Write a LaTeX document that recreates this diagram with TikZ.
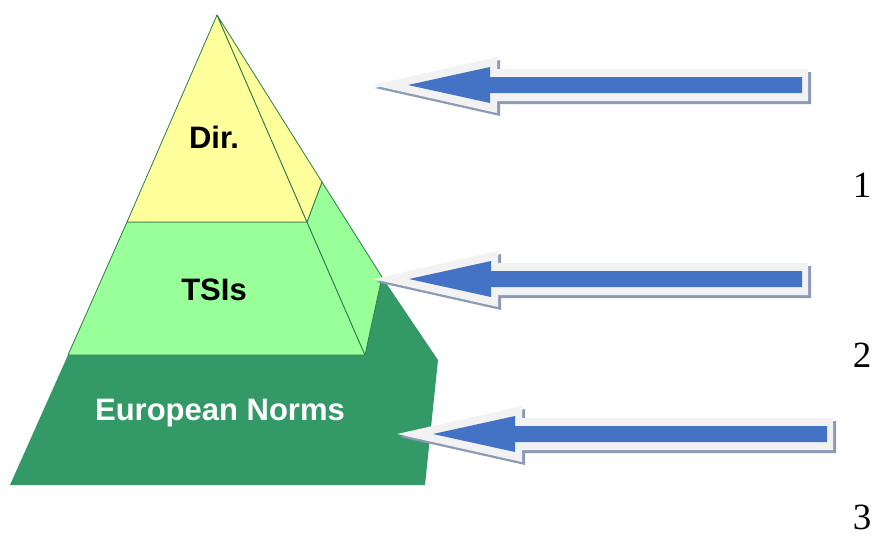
\documentclass[tikz,border=0pt]{standalone}
\usepackage{fontspec}
\setmainfont{Liberation Serif}
\setsansfont{Liberation Sans}

\definecolor{dirfill}{HTML}{FFFF9C}
\definecolor{tsifill}{HTML}{99FF99}
\definecolor{enfill}{HTML}{339966}
\definecolor{edge}{HTML}{2A7A4A}
\definecolor{arrblue}{HTML}{4472C4}
\definecolor{arrrim}{HTML}{F2F2F2}
\definecolor{arrshade}{HTML}{8C9AB5}

\begin{document}
\begin{tikzpicture}[x=1pt, y=-1pt,
    face/.style={draw=edge, line width=0.8pt, line join=round},
    lbl/.style={font=\sffamily\bfseries\fontsize{31}{31}\selectfont},
    num/.style={font=\fontsize{37}{37}\selectfont}
]
\useasboundingbox (0,0) rectangle (872,538);

% Pyramid
\fill[enfill] (68,355) -- (365,355) -- (382,277) -- (438,360) -- (425,485) -- (10,485) -- cycle;
\draw[face, fill=tsifill] (127,222) -- (307,222) -- (365,355) -- (68,355) -- cycle;
\draw[face, fill=tsifill] (307,222) -- (322,182) -- (382,277) -- (365,355) -- cycle;
\draw[face, fill=dirfill] (217,15) -- (127,222) -- (307,222) -- cycle;
\draw[face, fill=dirfill] (217,15) -- (307,222) -- (322,182) -- cycle;

% Labels
\node[lbl] (dir) at (214,137) {Dir.};
\node[lbl] (tsi) at (214,290) {TSIs};
\node[lbl, text=white] (en) at (220,413) {European Norms};

% Arrows
\foreach \tx/\ty/\len in {372/85/436, 373/279/435, 397/434/436} {
  \begin{scope}[shift={(\tx,\ty)}]
    \fill[arrshade] (3,3) -- (128,-25) -- (128,-13) -- (\len+3,-13) -- (\len+3,19) -- (128,19) -- (128,31) -- cycle;
    \fill[arrrim] (0,0) -- (125,-28) -- (125,-16) -- (\len,-16) -- (\len,16) -- (125,16) -- (125,28) -- cycle;
    \fill[arrblue] (36,0) -- (118,-18) -- (118,-8) -- (\len-6,-8) -- (\len-6,8) -- (118,8) -- (118,18) -- cycle;
  \end{scope}
}

% Numbers
\node[num] (n1) at (862,185) {1};
\node[num] (n2) at (862,355) {2};
\node[num] (n3) at (862,517) {3};

\end{tikzpicture}
\end{document}
